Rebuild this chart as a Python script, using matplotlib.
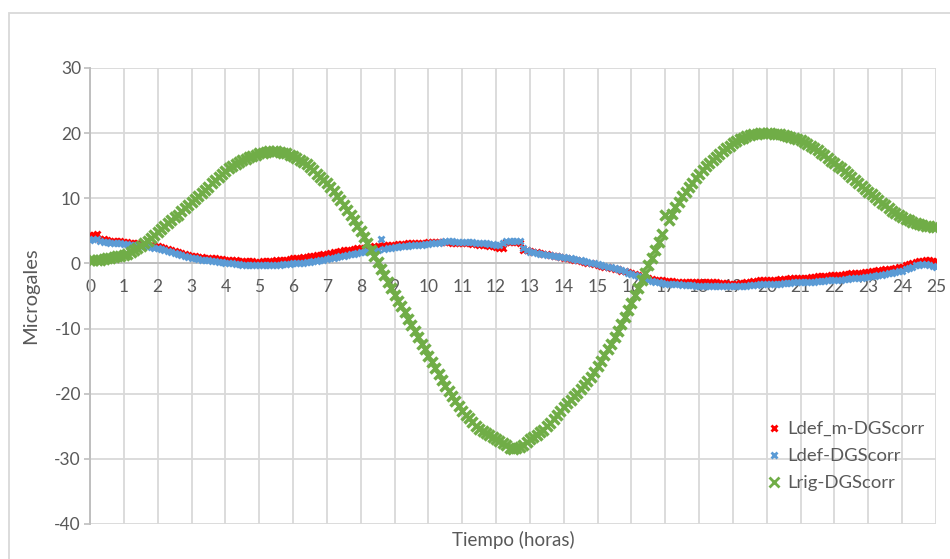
import numpy as np
import matplotlib.pyplot as plt
from matplotlib.patches import Rectangle
from matplotlib.lines import Line2D


# sample times, every 0.1 h from 0 to 25 h
HOURS = np.linspace(0, 25, 251)

LDEF_M = [
    4.3, 4.4, 4.5, 3.8, 3.7, 3.6, 3.5, 3.5, 3.4, 3.4, 3.3,
    3.3, 3.2, 3.2, 3.1, 3.0, 3.0, 2.9, 2.8, 2.7, 2.6,
    2.5, 2.3, 2.2, 2.0, 1.9, 1.8, 1.6, 1.5, 1.3, 1.2,
    1.1, 1.0, 1.0, 0.9, 0.9, 0.8, 0.8, 0.7, 0.7, 0.6,
    0.6, 0.5, 0.5, 0.4, 0.4, 0.3, 0.3, 0.3, 0.2, 0.2,
    0.3, 0.3, 0.4, 0.4, 0.5, 0.5, 0.6, 0.6, 0.7, 0.8,
    0.8, 0.9, 1.0, 1.0, 1.1, 1.2, 1.3, 1.3, 1.4, 1.5,
    1.6, 1.7, 1.8, 1.9, 2.0, 2.0, 2.1, 2.2, 2.3, 2.3,
    2.4, 2.5, 2.5, 2.6, 2.7, 2.7, 2.8, 2.8, 2.9, 2.9,
    3.0, 3.0, 3.0, 3.1, 3.1, 3.1, 3.2, 3.2, 3.2, 3.3,
    3.3, 3.3, 3.3, 3.3, 3.3, 3.3, 3.2, 3.2, 3.2, 3.1,
    3.1, 3.1, 3.0, 3.0, 2.9, 2.9, 2.8, 2.7, 2.6, 2.5,
    2.4, 2.3, 3.3, 3.3, 3.3, 3.3, 3.2, 2.1, 2.0, 1.9,
    1.8, 1.7, 1.6, 1.5, 1.4, 1.3, 1.2, 1.1, 1.0, 0.9,
    0.8, 0.7, 0.6, 0.5, 0.3, 0.2, 0.1, 0.0, -0.1, -0.3,
    -0.4, -0.5, -0.6, -0.7, -0.8, -0.9, -1.1, -1.2, -1.3, -1.5,
    -1.6, -1.8, -2.0, -2.2, -2.3, -2.4, -2.5, -2.6, -2.6, -2.7,
    -2.7, -2.7, -2.8, -2.8, -2.8, -2.8, -2.8, -2.8, -2.9, -2.9,
    -2.9, -2.9, -2.9, -2.9, -2.9, -3.0, -3.0, -3.0, -3.1, -3.1,
    -3.1, -3.0, -3.0, -2.9, -2.8, -2.7, -2.7, -2.6, -2.6, -2.6,
    -2.5, -2.5, -2.5, -2.4, -2.4, -2.4, -2.3, -2.3, -2.3, -2.3,
    -2.2, -2.2, -2.1, -2.1, -2.0, -2.0, -1.9, -1.9, -1.8, -1.8,
    -1.7, -1.7, -1.6, -1.6, -1.5, -1.5, -1.4, -1.4, -1.3, -1.3,
    -1.2, -1.1, -1.0, -1.0, -0.9, -0.8, -0.8, -0.7, -0.6, -0.5,
    -0.3, -0.1, 0.1, 0.2, 0.3, 0.4, 0.5, 0.5, 0.4, 0.3,
]

LDEF = [
    3.6, 3.7, 3.7, 3.4, 3.3, 3.3, 3.2, 3.2, 3.1, 3.1, 3.0,
    3.0, 2.9, 2.9, 2.8, 2.7, 2.6, 2.6, 2.5, 2.4, 2.3,
    2.2, 2.0, 1.9, 1.7, 1.6, 1.5, 1.3, 1.2, 1.0, 0.9,
    0.8, 0.7, 0.6, 0.5, 0.5, 0.4, 0.3, 0.2, 0.2, 0.1,
    0.0, 0.0, -0.1, -0.1, -0.2, -0.2, -0.2, -0.3, -0.3, -0.3,
    -0.3, -0.3, -0.2, -0.2, -0.2, -0.2, -0.1, -0.1, -0.1, 0.0,
    0.0, 0.1, 0.1, 0.2, 0.2, 0.3, 0.4, 0.5, 0.6, 0.7,
    0.8, 0.9, 1.0, 1.1, 1.2, 1.3, 1.4, 1.5, 1.6, 1.7,
    1.8, 1.9, 2.0, 2.0, 2.1, 3.8, 2.2, 2.3, 2.4, 2.5,
    2.5, 2.6, 2.7, 2.7, 2.8, 2.8, 2.9, 2.9, 3.0, 3.0,
    3.1, 3.2, 3.2, 3.3, 3.4, 3.4, 3.4, 3.3, 3.3, 3.3,
    3.3, 3.3, 3.3, 3.2, 3.2, 3.1, 3.1, 3.0, 3.0, 2.9,
    2.8, 3.1, 3.5, 3.5, 3.5, 3.5, 3.4, 2.3, 2.0, 1.8,
    1.7, 1.6, 1.5, 1.4, 1.3, 1.3, 1.2, 1.1, 1.0, 1.0,
    0.9, 0.8, 0.7, 0.6, 0.5, 0.4, 0.2, 0.1, 0.0, -0.1,
    -0.2, -0.4, -0.5, -0.6, -0.7, -0.9, -1.0, -1.2, -1.4, -1.6,
    -1.8, -2.0, -2.2, -2.4, -2.6, -2.7, -2.8, -2.9, -3.0, -3.1,
    -3.1, -3.2, -3.2, -3.2, -3.3, -3.3, -3.3, -3.3, -3.4, -3.4,
    -3.4, -3.4, -3.4, -3.4, -3.4, -3.5, -3.5, -3.5, -3.5, -3.5,
    -3.5, -3.5, -3.4, -3.4, -3.3, -3.3, -3.3, -3.2, -3.2, -3.2,
    -3.2, -3.1, -3.1, -3.1, -3.0, -3.0, -3.0, -2.9, -2.9, -2.9,
    -2.9, -2.8, -2.8, -2.8, -2.7, -2.7, -2.7, -2.6, -2.6, -2.6,
    -2.5, -2.5, -2.4, -2.4, -2.3, -2.3, -2.2, -2.2, -2.1, -2.1,
    -2.0, -1.9, -1.8, -1.7, -1.6, -1.5, -1.4, -1.3, -1.2, -1.1,
    -0.9, -0.7, -0.5, -0.3, -0.2, -0.1, -0.1, -0.2, -0.4, -0.6,
]

LRIG = [
    0.5, 0.5, 0.6, 0.6, 0.7, 0.8, 0.9, 1.0, 1.1, 1.2, 1.3,
    1.5, 1.7, 2.0, 2.3, 2.7, 3.1, 3.5, 3.9, 4.4, 4.8,
    5.3, 5.7, 6.2, 6.6, 7.1, 7.5, 8.0, 8.5, 8.9, 9.4,
    9.9, 10.4, 10.8, 11.3, 11.8, 12.3, 12.8, 13.3, 13.7, 14.2,
    14.6, 14.9, 15.3, 15.6, 15.9, 16.1, 16.3, 16.5, 16.7, 16.9,
    17.0, 17.1, 17.2, 17.2, 17.2, 17.1, 17.0, 16.9, 16.7, 16.5,
    16.2, 15.9, 15.6, 15.2, 14.8, 14.3, 13.8, 13.3, 12.8, 12.3,
    11.7, 11.1, 10.4, 9.7, 9.0, 8.2, 7.4, 6.6, 5.8, 5.0,
    4.1, 3.1, 2.1, 1.2, 0.2, -0.8, -1.8, -2.8, -3.8, -4.8,
    -5.7, -6.6, -7.5, -8.5, -9.4, -10.4, -11.3, -12.3, -13.2, -14.2,
    -15.1, -16.1, -17.0, -17.9, -18.8, -19.6, -20.4, -21.1, -21.9, -22.6,
    -23.2, -23.8, -24.4, -24.9, -25.4, -25.8, -26.1, -26.4, -26.7, -27.0,
    -27.3, -27.6, -27.9, -28.3, -28.5, -28.4, -28.2, -27.8, -27.4, -27.0,
    -26.6, -26.3, -25.9, -25.5, -25.0, -24.5, -23.9, -23.3, -22.7, -22.0,
    -21.5, -21.0, -20.4, -19.9, -19.3, -18.7, -18.1, -17.4, -16.6, -15.8,
    -15.0, -14.1, -13.2, -12.3, -11.3, -10.3, -9.3, -8.2, -7.1, -6.0,
    -4.9, -3.8, -2.6, -1.5, -0.3, 0.9, 2.1, 3.3, 4.5, 7.4,
    6.6, 7.6, 8.6, 9.5, 10.3, 11.0, 11.7, 12.4, 13.1, 13.7,
    14.3, 14.9, 15.4, 15.9, 16.4, 16.8, 17.3, 17.7, 18.1, 18.5,
    18.8, 19.1, 19.3, 19.5, 19.7, 19.8, 19.9, 20.0, 20.0, 20.0,
    20.0, 19.9, 19.9, 19.8, 19.7, 19.6, 19.4, 19.3, 19.1, 18.9,
    18.6, 18.3, 18.0, 17.7, 17.4, 17.0, 16.6, 16.2, 15.8, 15.4,
    15.0, 14.6, 14.2, 13.7, 13.3, 12.8, 12.4, 11.9, 11.5, 11.0,
    10.6, 10.2, 9.7, 9.3, 8.9, 8.5, 8.1, 7.8, 7.4, 7.1,
    6.8, 6.6, 6.4, 6.2, 6.0, 5.9, 5.8, 5.7, 5.6, 5.6,
]

LABELS = ["Ldef_m-DGScorr", "Ldef-DGScorr", "Lrig-DGScorr"]
COLORS = ["#ff0000", "#5b9bd5", "#70ad47"]

X_TICKS = list(range(0, 26))
Y_TICKS = [-40, -30, -20, -10, 0, 10, 20, 30]

TEXT = "#595959"
GRID = "#d9d9d9"


def main():
    plt.rcParams["font.family"] = ["Lato", "DejaVu Sans"]
    plt.rcParams["axes.unicode_minus"] = False

    fig = plt.figure(figsize=(9.5, 5.59), dpi=100)
    ax = fig.add_axes([90 / 950, 1 - 524 / 559, 846 / 950, 456 / 559])

    # chart-area border
    fig.patches.append(Rectangle((8.5 / 950, -0.1), 1.2, 1.1 - 13.5 / 559,
                                 transform=fig.transFigure, fill=False,
                                 edgecolor=GRID, linewidth=1.3))

    ax.plot(HOURS, LDEF_M, linestyle="none", marker="x", markersize=4,
            markeredgewidth=2, color=COLORS[0], zorder=3)
    ax.plot(HOURS, LDEF, linestyle="none", marker="x", markersize=4,
            markeredgewidth=2, color=COLORS[1], zorder=4)
    ax.plot(HOURS, LRIG, linestyle="none", marker="x", markersize=7.5,
            markeredgewidth=2.5, color=COLORS[2], zorder=5)

    ax.set_xlim(0, 25)
    ax.set_ylim(-40, 30)
    ax.set_xticks(X_TICKS)
    ax.set_yticks(Y_TICKS)
    ax.grid(True, color=GRID, linewidth=1.3)
    ax.set_axisbelow(True)

    for side in ["top", "right"]:
        ax.spines[side].set_visible(False)
    ax.spines["bottom"].set_position(("data", 0))
    ax.spines["bottom"].set_color("#bfbfbf")
    ax.spines["bottom"].set_linewidth(1.4)
    ax.spines["left"].set_color("#bfbfbf")
    ax.spines["left"].set_linewidth(1.4)

    ax.tick_params(axis="x", length=0, pad=11, labelsize=12.5, labelcolor=TEXT)
    ax.tick_params(axis="y", length=4.5, width=1.2, color="#bfbfbf", pad=2,
                   labelsize=12.5, labelcolor=TEXT)

    ax.set_xlabel("Tiempo (horas)", fontsize=13.5, color=TEXT)
    ax.xaxis.set_label_coords(0.5, -0.016)
    ax.set_ylabel("Microgales", fontsize=14.5, color=TEXT)
    ax.yaxis.set_label_coords(-0.06, 0.5)

    handles = [
        Line2D([], [], linestyle="none", marker="x", markersize=4,
               markeredgewidth=2, color=COLORS[0]),
        Line2D([], [], linestyle="none", marker="x", markersize=4,
               markeredgewidth=2, color=COLORS[1]),
        Line2D([], [], linestyle="none", marker="x", markersize=7,
               markeredgewidth=2, color=COLORS[2]),
    ]
    leg = fig.legend(handles, LABELS, loc="upper left",
                     bbox_to_anchor=(757 / 950, 1 - 412 / 559),
                     frameon=False, fontsize=13.3, handlelength=0.8,
                     handletextpad=0.35, labelspacing=0.6, borderpad=0)
    for t in leg.get_texts():
        t.set_color(TEXT)

    fig.savefig("out.png", dpi=100)
    plt.close(fig)


if __name__ == "__main__":
    main()
